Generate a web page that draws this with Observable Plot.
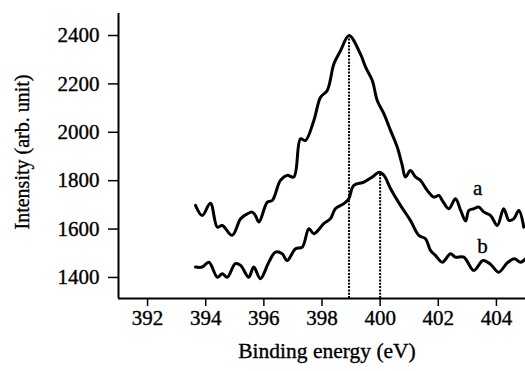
<!DOCTYPE html>
<html><head><meta charset="utf-8">
<script src="https://cdn.jsdelivr.net/npm/d3@7"></script>
<script src="https://cdn.jsdelivr.net/npm/@observablehq/plot@0.6"></script>
<style>html,body{margin:0;padding:0;background:#fff} svg text{font-family:'Liberation Serif',serif !important; stroke:black; stroke-width:0.35px}</style>
</head><body><div id="chart"></div>
<script>
// Curve a
const energyA = [393.65,393.88,394.16,394.40,394.57,394.91,395.20,395.43,395.60,395.71,395.83,396.12,396.29,396.57,396.80,397.03,397.26,397.43,397.72,397.95,398.18,398.41,398.64,398.93,399.32,399.50,399.73,399.90,400.13,400.36,400.59,400.76,400.87,401.04,401.22,401.39,401.62,401.85,402.02,402.14,402.36,402.59,402.77,402.94,403.05,403.22,403.39,403.57,403.80,404.03,404.25,404.43,404.60,404.77,404.94];
const intensityA = [1698,1656,1707,1608,1615,1574,1643,1663,1670,1656,1629,1711,1718,1801,1822,1815,1973,1966,2049,2145,2173,2283,2338,2400,2324,2269,2214,2131,2076,2007,1938,1863,1815,1842,1815,1801,1760,1732,1739,1718,1684,1725,1677,1633,1677,1684,1691,1670,1656,1615,1684,1636,1643,1677,1608];
// Curve b
const energyB = [393.65,393.88,394.11,394.40,394.57,394.74,395.02,395.20,395.48,395.65,395.88,396.17,396.40,396.63,396.80,397.09,397.32,397.55,397.72,398.06,398.29,398.46,398.75,398.92,399.09,399.44,399.73,399.97,400.13,400.36,400.70,401.04,401.33,401.56,401.73,401.90,402.14,402.42,402.59,402.88,403.22,403.54,403.80,404.08,404.37,404.62,404.83,405.00];
const intensityB = [1443,1443,1463,1401,1415,1401,1457,1450,1401,1443,1395,1463,1505,1498,1470,1519,1525,1601,1581,1622,1643,1684,1705,1725,1780,1794,1815,1835,1822,1767,1698,1636,1574,1560,1512,1491,1463,1498,1484,1484,1429,1470,1454,1422,1460,1477,1463,1477];
// Peak markers
const peakEnergies = [398.93, 400.0];
const peakIntensities = [2400, 1835];
// Curve labels
const curveNames = ["a", "b"];
const labelEnergies = [403.35, 403.52];
const labelIntensities = [1768, 1528];
// Ticks
const xTicks = [392, 394, 396, 398, 400, 402, 404];
const yTicks = [1400, 1600, 1800, 2000, 2200, 2400];
const xTitle = "Binding energy (eV)";
const yTitle = "Intensity (arb. unit)";

const xDomain = [391, 405];
const yDomain = [1313, 2491];

const a = energyA.map((e, i) => ({e, v: intensityA[i]}));
const b = energyB.map((e, i) => ({e, v: intensityB[i]}));
const peaks = peakEnergies.map((e, i) => ({e, v: peakIntensities[i]}));
const labels = curveNames.map((t, i) => ({t, e: labelEnergies[i], v: labelIntensities[i]}));
const fmt = d3.format("d");
const serif = "'Liberation Serif', serif";

const chart = Plot.plot({
  width: 525, height: 371,
  marginLeft: 118, marginRight: 0, marginTop: 13, marginBottom: 73,
  x: {domain: xDomain},
  y: {domain: yDomain},
  style: {fontFamily: serif, color: "black", background: "white", overflow: "visible"},
  marks: [
    Plot.axisX(xTicks, {tickSize: 8, tickPadding: 4, label: null, fontSize: 21, fontFamily: serif, tickFormat: fmt, strokeWidth: 1.5}),
    Plot.axisY(yTicks, {tickSize: 10, tickPadding: 9, label: null, fontSize: 21, fontFamily: serif, tickFormat: fmt, strokeWidth: 1.5}),
    Plot.ruleX(peaks, {x: "e", y1: yDomain[0], y2: "v", stroke: "black", strokeWidth: 2, strokeDasharray: "2,1.3"}),
    Plot.line(a, {x: "e", y: "v", curve: "catmull-rom", stroke: "black", strokeWidth: 3}),
    Plot.line(b, {x: "e", y: "v", curve: "catmull-rom", stroke: "black", strokeWidth: 3}),
    Plot.ruleX([xDomain[0]], {stroke: "black", strokeWidth: 2}),
    Plot.ruleY([yDomain[0]], {stroke: "black", strokeWidth: 2}),
    Plot.text(labels, {x: "e", y: "v", text: "t", fontSize: 21, fontFamily: serif, fill: "black"}),
    Plot.text([xTitle], {frameAnchor: "bottom", dx: 5, dy: 59, fontSize: 21.5, fontFamily: serif, fill: "black"}),
    Plot.text([yTitle], {frameAnchor: "left", dx: -96, dy: -4, rotate: -90, textAnchor: "middle", fontSize: 20, fontFamily: serif, fill: "black"})
  ]
});
document.getElementById("chart").append(chart);
</script>
</body></html>
